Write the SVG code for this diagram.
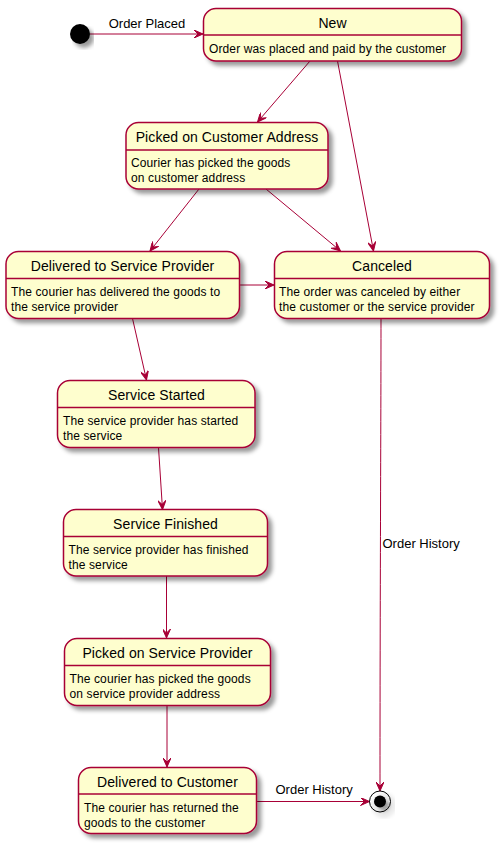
<svg xmlns="http://www.w3.org/2000/svg" width="500" height="844" viewBox="0 0 500 844">
<style>
.box{fill:#FEFECE;stroke:#A80036;stroke-width:1.5}
.div{stroke:#A80036;stroke-width:1.5}
.t{font-family:"Liberation Sans",Arial,sans-serif;font-size:14px;fill:#000;text-anchor:middle;letter-spacing:0.08px}
.b{font-family:"Liberation Sans",Arial,sans-serif;font-size:12px;fill:#000;letter-spacing:0.12px}
.l{font-family:"Liberation Sans",Arial,sans-serif;font-size:13px;fill:#000}
.c{fill:none;stroke:#A80036;stroke-width:1;marker-end:url(#ah)}
</style>
<defs>
<filter id="sh" x="-10%" y="-10%" width="130%" height="140%">
<feGaussianBlur in="SourceAlpha" stdDeviation="2" result="b"/>
<feColorMatrix in="b" type="matrix" values="0 0 0 0 0 0 0 0 0 0 0 0 0 0 0 0 0 0 .4 0" result="c"/>
<feOffset in="c" dx="4" dy="4" result="o"/>
<feBlend in="SourceGraphic" in2="o" mode="normal"/>
</filter>
<marker id="ah" viewBox="0 0 10 8" refX="10" refY="4" markerWidth="10" markerHeight="8" markerUnits="userSpaceOnUse" orient="auto">
<path d="M10,4 L1,0 L5,4 L1,8 Z" fill="#A80036" stroke="#A80036" stroke-width="1"/>
</marker>
</defs>
<g id="connectors">
<line class="c" x1="90" y1="34" x2="203" y2="34"/>
<text class="l" x="147" y="28" text-anchor="middle">Order Placed</text>
<line class="c" x1="310" y1="61" x2="257.5" y2="122"/>
<line class="c" x1="337.5" y1="61" x2="373.5" y2="251"/>
<line class="c" x1="199" y1="189" x2="150" y2="251"/>
<line class="c" x1="266" y1="189" x2="340.5" y2="251"/>
<line class="c" x1="239.5" y1="285" x2="274" y2="285"/>
<line class="c" x1="132.5" y1="318.5" x2="146.5" y2="380"/>
<line class="c" x1="158.5" y1="447.5" x2="162.5" y2="509.5"/>
<line class="c" x1="166.5" y1="576" x2="166.5" y2="638"/>
<line class="c" x1="167" y1="705.5" x2="167" y2="767"/>
<path class="c" d="M381,318.5 C381,420 380,600 380,791"/>
<text class="l" x="382.5" y="548">Order History</text>
<line class="c" x1="257" y1="801.5" x2="369.5" y2="801.5"/>
<text class="l" x="275.5" y="794">Order History</text>
</g>
<g id="start" filter="url(#sh)">
<circle cx="80" cy="34" r="10" fill="#000"/>
</g>
<g id="end" filter="url(#sh)">
<circle cx="380" cy="801.5" r="10.5" fill="none" stroke="#000" stroke-width="1"/>
<circle cx="380" cy="801.5" r="6" fill="#000"/>
</g>
<g id="new">
<rect class="box" x="203.5" y="8.5" width="258" height="52.5" rx="12.5" filter="url(#sh)"/>
<line class="div" x1="203.5" y1="35" x2="461.5" y2="35"/>
<text class="t" x="332.5" y="28">New</text>
<text class="b" x="209" y="53">Order was placed and paid by the customer</text>
</g>
<g id="picked-customer">
<rect class="box" x="126" y="122.5" width="202" height="66.5" rx="12.5" filter="url(#sh)"/>
<line class="div" x1="126" y1="150" x2="328" y2="150"/>
<text class="t" x="227" y="142">Picked on Customer Address</text>
<text class="b" x="131" y="167">Courier has picked the goods</text>
<text class="b" x="131" y="182">on customer address</text>
</g>
<g id="delivered-sp">
<rect class="box" x="6" y="251.5" width="233.5" height="67" rx="12.5" filter="url(#sh)"/>
<line class="div" x1="6" y1="278.5" x2="239.5" y2="278.5"/>
<text class="t" x="122.5" y="271">Delivered to Service Provider</text>
<text class="b" x="11" y="296">The courier has delivered the goods to</text>
<text class="b" x="11" y="311">the service provider</text>
</g>
<g id="canceled">
<rect class="box" x="274.5" y="251.5" width="215" height="67" rx="12.5" filter="url(#sh)"/>
<line class="div" x1="274.5" y1="278.5" x2="489.5" y2="278.5"/>
<text class="t" x="382" y="271">Canceled</text>
<text class="b" x="279" y="296">The order was canceled by either</text>
<text class="b" x="279" y="311">the customer or the service provider</text>
</g>
<g id="service-started">
<rect class="box" x="57.5" y="380.5" width="197.5" height="67" rx="12.5" filter="url(#sh)"/>
<line class="div" x1="57.5" y1="407.5" x2="255" y2="407.5"/>
<text class="t" x="156.5" y="400">Service Started</text>
<text class="b" x="63" y="425">The service provider has started</text>
<text class="b" x="63" y="440">the service</text>
</g>
<g id="service-finished">
<rect class="box" x="63.5" y="509.5" width="204" height="66.5" rx="12.5" filter="url(#sh)"/>
<line class="div" x1="63.5" y1="536.5" x2="267.5" y2="536.5"/>
<text class="t" x="165.5" y="529">Service Finished</text>
<text class="b" x="68.5" y="554">The service provider has finished</text>
<text class="b" x="68.5" y="569">the service</text>
</g>
<g id="picked-sp">
<rect class="box" x="64.5" y="638.5" width="206" height="67" rx="12.5" filter="url(#sh)"/>
<line class="div" x1="64.5" y1="665.5" x2="270.5" y2="665.5"/>
<text class="t" x="167.5" y="658">Picked on Service Provider</text>
<text class="b" x="69.5" y="683">The courier has picked the goods</text>
<text class="b" x="69.5" y="698">on service provider address</text>
</g>
<g id="delivered-customer">
<rect class="box" x="78.5" y="767.5" width="178" height="66" rx="12.5" filter="url(#sh)"/>
<line class="div" x1="78.5" y1="794" x2="256.5" y2="794"/>
<text class="t" x="167.5" y="787">Delivered to Customer</text>
<text class="b" x="84" y="812">The courier has returned the</text>
<text class="b" x="84" y="827">goods to the customer</text>
</g>
</svg>
